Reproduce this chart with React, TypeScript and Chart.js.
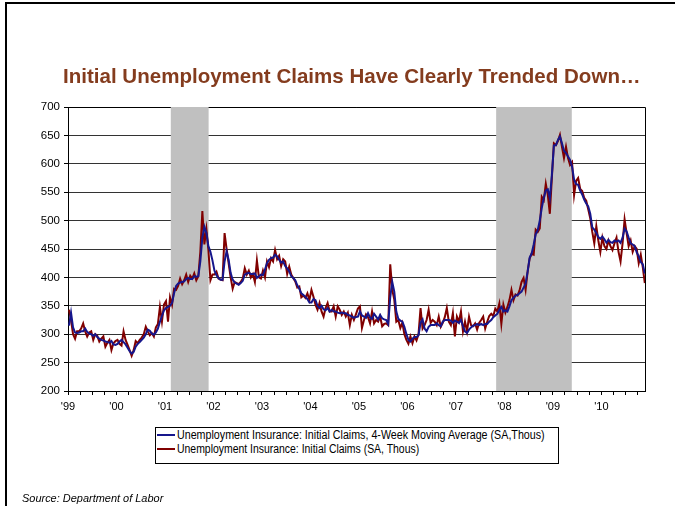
import React, { useEffect, useLayoutEffect, useRef } from 'react';
import { Chart, registerables } from 'chart.js';

Chart.register(...registerables);

// ---- data (semi-monthly readings, Jan 1999 – Nov 2010) ----
const FIRST_YEAR = 1999;
const PERIODS_PER_YEAR = 24;

const yearTickLabels = ["'99", "'00", "'01", "'02", "'03", "'04", "'05", "'06", "'07", "'08", "'09", "'10"];

const movingAverage4Wk = [
  315, 338, 312, 303, 302, 303, 305, 305, 310, 304, 301, 300, 297, 300, 295, 292, 290, 289, 287, 286, 285, 288, 282, 281, // 1999
  283, 287, 290, 286, 282, 276, 270, 266, 269, 278, 283, 286, 290, 294, 300, 308, 306, 301, 299, 303, 310, 322, 332, 342, // 2000
  346, 348, 350, 355, 372, 385, 389, 391, 392, 393, 397, 399, 397, 397, 402, 401, 402, 428, 470, 489, 478, 455, 445, 430, // 2001
  412, 404, 399, 396, 396, 428, 446, 431, 408, 396, 391, 389, 387, 390, 394, 405, 407, 408, 406, 406, 407, 399, 402, 405, // 2002
  404, 414, 425, 431, 434, 435, 440, 437, 431, 426, 428, 420, 416, 411, 402, 399, 395, 386, 380, 372, 369, 366, 362, 356, // 2003
  356, 362, 360, 350, 346, 350, 344, 342, 346, 340, 343, 340, 340, 338, 337, 338, 337, 337, 334, 333, 331, 329, 330, 331, // 2004
  340, 333, 331, 329, 337, 329, 327, 336, 331, 326, 334, 328, 326, 325, 318, 365, 392, 375, 340, 327, 324, 322, 313, 300, // 2005
  290, 287, 292, 295, 295, 298, 320, 326, 310, 305, 313, 316, 316, 316, 319, 316, 314, 322, 325, 325, 325, 324, 320, 324, // 2006
  322, 320, 325, 314, 305, 302, 308, 312, 315, 316, 318, 316, 318, 316, 318, 318, 322, 325, 330, 333, 336, 343, 348, 340, // 2007
  342, 340, 349, 360, 364, 368, 369, 372, 375, 382, 389, 410, 435, 442, 458, 476, 483, 500, 522, 540, 553, 555, 539, 580, // 2008
  632, 633, 642, 648, 636, 623, 619, 613, 607, 595, 572, 564, 563, 553, 546, 537, 530, 525, 512, 488, 484, 478, 471, 468, // 2009
  472, 467, 461, 466, 462, 461, 465, 463, 465, 461, 470, 486, 481, 470, 460, 458, 455, 444, 437, 427, 423, 407,           // 2010
];

const initialClaims = [
  343, 325, 300, 292, 305, 305, 310, 319, 305, 296, 303, 305, 290, 300, 297, 287, 292, 296, 278, 285, 290, 272, 284, 288, // 1999
  290, 283, 280, 305, 290, 281, 272, 262, 272, 288, 284, 290, 294, 300, 313, 305, 298, 302, 296, 312, 318, 348, 322, 352, // 2000
  358, 322, 365, 352, 380, 378, 385, 398, 388, 395, 405, 392, 403, 398, 407, 395, 402, 445, 517, 458, 485, 448, 395, 405, // 2001
  405, 410, 398, 396, 395, 478, 450, 425, 400, 380, 392, 390, 388, 392, 398, 416, 405, 412, 400, 406, 392, 430, 400, 398, // 2002
  412, 400, 428, 418, 434, 428, 448, 432, 438, 420, 432, 428, 406, 419, 405, 399, 393, 382, 384, 365, 368, 364, 372, 360, // 2003
  378, 366, 352, 343, 355, 340, 331, 346, 355, 340, 340, 349, 331, 349, 343, 334, 340, 331, 338, 316, 334, 325, 335, 345, // 2004
  349, 311, 325, 335, 330, 319, 340, 319, 325, 322, 331, 314, 318, 319, 316, 423, 378, 361, 322, 325, 311, 320, 300, 290, // 2005
  283, 296, 284, 296, 289, 300, 346, 310, 316, 325, 343, 320, 325, 322, 316, 331, 313, 320, 330, 346, 322, 316, 337, 296, // 2006
  331, 322, 340, 305, 322, 305, 331, 316, 314, 319, 308, 320, 325, 331, 310, 322, 332, 336, 332, 345, 340, 354, 318, 352, // 2007
  338, 348, 360, 378, 360, 370, 368, 377, 392, 399, 378, 410, 433, 442, 440, 484, 480, 486, 542, 536, 565, 545, 512, 575, // 2008
  636, 633, 640, 651, 630, 610, 630, 610, 598, 603, 545, 570, 575, 556, 552, 540, 535, 520, 504, 480, 460, 490, 465, 445, // 2009
  470, 455, 450, 465, 455, 448, 460, 470, 445, 428, 460, 502, 478, 455, 465, 445, 455, 450, 425, 440, 418, 390,           // 2010
];

const recessionStarts = [2001.12, 2007.83];
const recessionEnds = [2001.9, 2009.39];

const Y_MIN = 200;
const Y_MAX = 700;
const Y_STEP = 50;
const X_MIN = 1999;
const X_MAX = 2010.9;

const TITLE = 'Initial Unemployment Claims Have Clearly Trended Down…';
const LEGEND_MA = 'Unemployment Insurance: Initial Claims, 4-Week Moving Average (SA,Thous)';
const LEGEND_IC = 'Unemployment Insurance: Initial Claims (SA, Thous)';
const SOURCE = 'Source: Department of Labor';

const BLUE = '#16168C';
const RED = '#800000';
const FONT = "'Liberation Sans', Arial, Helvetica, sans-serif";

const toPoints = (arr: number[]) =>
  arr.map((v, i) => ({ x: FIRST_YEAR + (i + 0.5) / PERIODS_PER_YEAR, y: v }));

function FitText(props: { text: string; left: number; centerY: number; width: number; style?: any }) {
  const ref = useRef<HTMLSpanElement>(null);
  useLayoutEffect(() => {
    const el = ref.current;
    if (!el) return;
    el.style.transform = 'none';
    const natural = el.offsetWidth;
    const s = natural > 0 ? props.width / natural : 1;
    el.style.transform = `translateY(-50%) scaleX(${s})`;
  }, [props.text, props.width]);
  return (
    <span
      ref={ref}
      style={{
        position: 'absolute',
        left: props.left,
        top: props.centerY,
        whiteSpace: 'nowrap',
        transformOrigin: '0 50%',
        lineHeight: 1,
        fontFamily: FONT,
        ...(props.style || {}),
      }}
    >
      {props.text}
    </span>
  );
}

const shadePlugin = {
  id: 'shadeAndBorder',
  beforeDatasetsDraw(chart: any) {
    const { ctx, chartArea, scales } = chart;
    const { left, right, top, bottom } = chartArea;
    ctx.save();
    ctx.strokeStyle = '#000';
    ctx.lineWidth = 1;
    ctx.beginPath();
    ctx.moveTo(left, Math.round(top) + 0.5);
    ctx.lineTo(Math.round(right) + 0.5, Math.round(top) + 0.5);
    ctx.lineTo(Math.round(right) + 0.5, bottom);
    ctx.stroke();
    ctx.fillStyle = '#C0C0C0';
    for (let i = 0; i < recessionStarts.length; i++) {
      const x0 = scales.x.getPixelForValue(recessionStarts[i]);
      const x1 = scales.x.getPixelForValue(recessionEnds[i]);
      ctx.fillRect(x0, top, x1 - x0, bottom - top);
    }
    ctx.restore();
  },
};

export default function App() {
  const canvasRef = useRef<HTMLCanvasElement>(null);

  useEffect(() => {
    const canvas = canvasRef.current;
    if (!canvas) return;
    const chart = new Chart(canvas, {
      type: 'line',
      data: {
        datasets: [
          {
            label: LEGEND_MA,
            data: toPoints(movingAverage4Wk),
            borderColor: BLUE,
            borderWidth: 2,
            pointRadius: 0,
            tension: 0,
          },
          {
            label: LEGEND_IC,
            data: toPoints(initialClaims),
            borderColor: RED,
            borderWidth: 2,
            pointRadius: 0,
            tension: 0,
          },
        ],
      },
      options: {
        animation: false,
        responsive: false,
        devicePixelRatio: 1,
        layout: { padding: { left: 0, top: 107, right: 30, bottom: 90 } },
        plugins: { legend: { display: false }, tooltip: { enabled: false }, title: { display: false } },
        scales: {
          x: {
            type: 'linear',
            min: X_MIN,
            max: X_MAX,
            afterFit: (s: any) => { s.height = 25; },
            grid: { drawOnChartArea: false, tickLength: 4, color: '#000', lineWidth: 1 },
            border: { color: '#000', width: 1 },
            ticks: {
              stepSize: 0.25,
              autoSkip: false,
              maxRotation: 0,
              minRotation: 0,
              includeBounds: false,
              padding: 5,
              color: '#000',
              font: { family: FONT, size: 11 },
              callback: (v: any) => {
                const n = Number(v);
                const r = Math.round(n);
                if (Math.abs(n - r) < 1e-6) return yearTickLabels[r - FIRST_YEAR] ?? '';
                return '';
              },
            },
          },
          y: {
            min: Y_MIN,
            max: Y_MAX,
            afterFit: (s: any) => { s.width = 68; },
            grid: { color: '#333', tickColor: '#000', tickLength: 4, lineWidth: 1 },
            border: { color: '#000', width: 1 },
            ticks: {
              stepSize: Y_STEP,
              padding: 4,
              color: '#000',
              font: { family: FONT, size: 11.5 },
            },
          },
        },
      },
      plugins: [shadePlugin],
    } as any);
    return () => chart.destroy();
  }, []);

  return (
    <div
      style={{
        position: 'fixed',
        left: 0,
        top: 0,
        width: 675,
        height: 506,
        background: '#fff',
        overflow: 'hidden',
      }}
    >
      <div
        style={{
          position: 'absolute',
          left: 5,
          top: 2,
          width: 700,
          height: 540,
          borderTop: '2px solid #000',
          borderLeft: '2px solid #000',
        }}
      />
      <canvas ref={canvasRef} width={675} height={506} style={{ position: 'absolute', left: 0, top: 0 }} />
      <FitText
        text={TITLE}
        left={63}
        centerY={75}
        width={577}
        style={{ fontWeight: 'bold', fontSize: 21, color: '#843C1E' }}
      />
      <div
        style={{
          position: 'absolute',
          left: 155,
          top: 427,
          width: 402,
          height: 35,
          border: '1px solid #000',
          background: '#fff',
        }}
      />
      <div style={{ position: 'absolute', left: 157, top: 434, width: 18, height: 2, background: BLUE }} />
      <div style={{ position: 'absolute', left: 157, top: 448, width: 18, height: 2, background: RED }} />
      <FitText text={LEGEND_MA} left={177} centerY={435} width={368} style={{ fontSize: 12.5, color: '#000' }} />
      <FitText text={LEGEND_IC} left={177} centerY={449} width={242} style={{ fontSize: 12.5, color: '#000' }} />
      <FitText
        text={SOURCE}
        left={22}
        centerY={499}
        width={141}
        style={{ fontStyle: 'italic', fontSize: 11.5, color: '#000' }}
      />
    </div>
  );
}
